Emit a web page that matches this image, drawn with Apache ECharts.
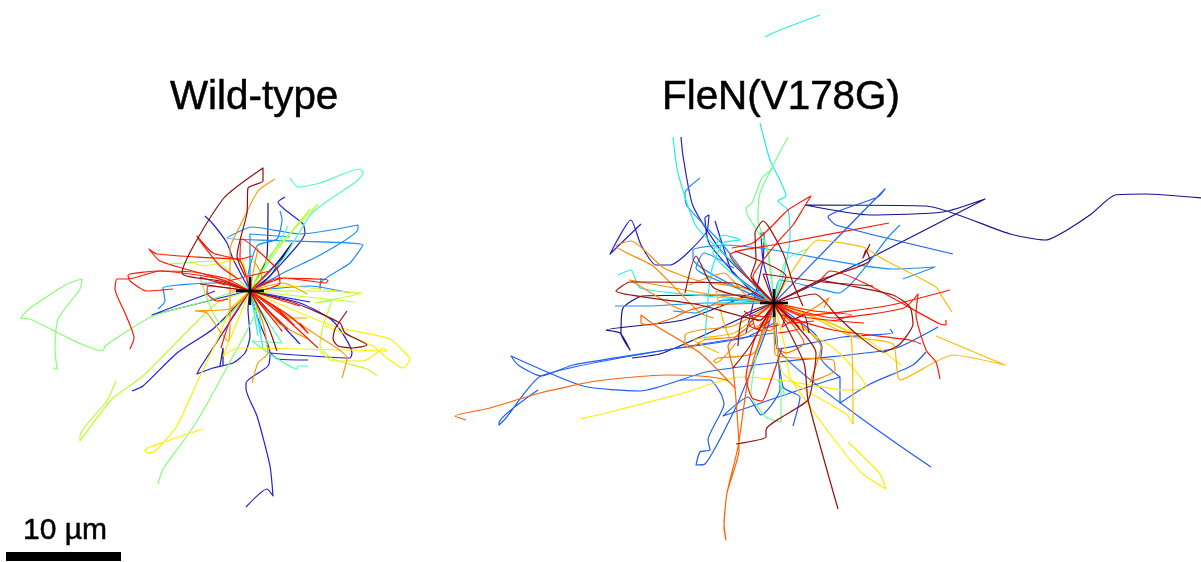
<!DOCTYPE html>
<html lang="en">
<head>
    <meta charset="UTF-8">
    <title>Wild-type vs FleN(V178G) tracks</title>
    <script src="https://cdn.jsdelivr.net/npm/echarts@6/dist/echarts.min.js"></script>
    <style>html, body { margin: 0; padding: 0; background: #fff; }</style>
</head>
<body>
    <div id="main" style="width: 1201px; height: 562px;"></div>
    <script>
        // cell tracks, displacement from the start point (1 unit = 1/11.5 um), y pointing down
        var wtMaroon = [
            [[0,0],[-30,-10],[-68,-18],[-27,-92],[13,-123],[13,-110],[-2,-103],[-3,-78],[-13,-35],[-5,-15]],
            [[0,0],[45,12],[90,32],[95,42],[117,54],[103,57],[88,55],[83,48],[85,38],[97,20]],
            [[0,0],[18,35],[27,60]],
            [[0,0],[-50,-7]]
        ];
        var wtRed = [
            [[0,0],[30,-13],[78,-11],[76,-8],[35,-13],[0,0]],
            [[0,0],[17,-2],[30,-8],[27,-22],[-8,-52],[-10,-30]],
            [[0,0],[-10,-30],[-37,-38],[-53,-55],[-50,-50],[-30,-25],[-12,-12]],
            [[0,0],[-23,-12],[-50,-18],[-90,-30],[-101,-42],[-93,-37],[-10,-32],[2,-35]],
            [[0,0],[-50,-18],[-90,-20],[-122,-12],[-133,-12],[-135,-2],[-125,22],[-116,47],[-120,58]],
            [[0,0],[-30,-12],[-90,-20],[-122,-16],[-120,-10],[-103,0],[-77,-2]],
            [[0,0],[33,25],[68,57]],
            [[0,0],[32,40],[30,38]],
            [[0,0],[40,25],[58,42],[50,32]],
            [[0,0],[50,15]],
            [[0,0],[-42,-5],[-43,2],[-33,10],[-22,8]],
            [[0,0],[-20,30],[-29,57]],
            [[0,0],[28,30],[8,10],[38,38]],
            [[0,0],[20,-20],[-22,-10]],
            [[0,0],[-35,-10],[-25,-6],[-50,-14]],
            [[0,0],[22,14],[44,34],[28,18]]
        ];
        var wtOrange = [
            [[0,0],[-20,0],[-20,-42],[-10,-65],[8,-100],[25,-112]],
            [[0,0],[-20,18],[-55,20],[-43,22],[-22,50],[-20,30],[-20,0]],
            [[0,0],[68,45],[97,67],[92,87]],
            [[0,0],[13,32],[18,62],[8,72],[2,92]],
            [[0,0],[33,-8],[57,3]],
            [[0,0],[17,12],[37,27],[57,27]],
            [[0,0],[3,-18],[8,-43]],
            [[0,0],[25,30],[58,48]],
            [[0,0],[12,-15],[4,-30]]
        ];
        var wtYellow = [
            [[0,0],[-10,-32],[-47,-25],[-60,-30]],
            [[0,0],[-20,18],[-30,43],[-50,85],[-73,135],[-87,152],[-95,160],[-103,162],[-105,159],[-83,150],[-47,138]],
            [[0,0],[83,35],[140,48],[158,65],[160,68],[153,77],[137,67],[123,55],[75,35]],
            [[0,0],[-27,65],[-12,57],[137,60],[133,57],[127,62],[113,70],[83,70],[70,60]],
            [[0,0],[35,-5],[110,3]]
        ];
        var wtLime = [
            [[0,0],[-17,5],[-37,15],[-107,85],[-137,107],[-170,150],[-170,145],[-143,110],[-134,90]],
            [[0,0],[50,0],[112,2],[65,12],[82,10],[73,35],[70,55],[83,68],[117,78],[127,85]],
            [[0,0],[17,-32],[68,-87]],
            [[0,0],[105,11]],
            [[0,0],[28,-42],[60,-82]]
        ];
        var wtGreen = [
            [[0,0],[-10,0],[-43,10],[-97,25],[-145,55],[-147,60],[-220,28],[-229,27],[-220,17],[-183,-7],[-168,-12],[-170,-2],[-192,28],[-195,58],[-193,78],[-197,77]],
            [[0,0],[7,15],[-17,65],[-50,125],[-63,145],[-87,178],[-92,193]],
            [[0,0],[-30,32],[-50,-13]],
            [[0,0],[-37,-30],[-80,-27]]
        ];
        var wtSea = [
            [[0,0],[33,-32],[62,-78],[107,-110],[113,-118],[110,-122],[70,-108],[48,-104],[40,-113]],
            [[0,0],[10,18],[32,52],[2,50],[23,65],[47,78],[48,75],[58,75]],
            [[0,0],[30,-50],[38,-65]]
        ];
        var wtCyan = [
            [[0,0],[7,25],[13,57]],
            [[0,0],[10,22],[10,42]],
            [[0,0],[3,15],[8,45]]
        ];
        var wtAzure = [
            [[0,0],[33,-18],[72,-37],[108,-62],[108,-66],[50,-57],[2,-64],[-23,-53],[113,-46],[100,-28],[70,-7],[70,-2],[71,-13]],
            [[0,0],[-3,-8],[7,-45],[27,-52],[32,-72],[30,-80]],
            [[0,0],[-33,-8],[-87,-3],[-85,10],[-92,18]],
            [[0,0],[60,-5],[100,2]],
            [[0,0],[0,-57],[40,-54]]
        ];
        var wtBlue = [
            [[0,0],[-17,-32],[-23,-48],[-37,-67],[-45,-75]],
            [[0,0],[13,-8],[47,-45],[55,-58],[53,-67],[28,-89],[35,-94]],
            [[0,0],[7,25],[20,62],[18,75],[-4,92],[-4,98],[7,125],[20,175],[23,205],[17,198],[-4,216]],
            [[0,0],[-37,38],[-73,62],[-107,95],[-118,100]],
            [[0,0],[-10,2],[-50,12],[-98,24],[-35,0]],
            [[0,0],[-2,18],[0,45],[-5,62],[-17,72],[-37,77],[-53,83],[-50,77],[0,0]],
            [[0,0],[50,12],[83,30],[102,62],[100,67],[20,62],[28,68],[58,69]],
            [[0,0],[50,53]],
            [[0,0],[60,11]]
        ];
        var wtNavy = [
            [[0,0],[17,-35],[18,-88]],
            [[0,0],[27,-28],[42,-48]],
            [[0,0],[20,-15],[40,-45],[25,-25]],
            [[-30,75],[-27,57],[-27,75]]
        ];

        var fnMaroon = [
            [[0,0],[30,60],[34,97],[64,206]],
            [[0,0],[42,50],[40,70],[34,97],[-8,127],[-8,134],[-38,141]],
            [[0,0],[46,-23],[96,-43],[92,-53],[89,-45],[96,-59]],
            [[0,0],[-11,-29],[49,-21],[99,-17]],
            [[0,0],[41,-9],[64,14],[86,34],[109,49],[126,41],[139,21],[136,4],[119,-8],[72,-18],[46,-23]],
            [[0,0],[-14,17],[-74,2],[-158,-12],[-144,-21],[-41,-20],[-10,-5]],
            [[0,0],[-23,-27],[-18,-43],[-19,-70],[-11,-82],[9,-50],[19,-20],[29,3]],
            [[0,0],[12,-27],[-39,-52]],
            [[0,0],[-11,20],[-24,43],[-41,65]],
            [[0,0],[-31,13],[-36,43]],
            [[0,0],[-60,-15],[-78,-47],[-89,-10]],
            [[0,0],[20,16],[30,12],[35,30]]
        ];
        var fnRed = [
            [[0,0],[-21,-26],[2,-59],[19,-78],[29,-94],[37,-107],[14,-93],[-3,-76],[-21,-60],[-42,-55]],
            [[0,0],[-44,-48],[-1,-58],[115,-80]],
            [[0,0],[32,12],[112,3],[176,-13]],
            [[0,0],[60,15],[130,5],[144,-9],[142,11],[152,47],[162,59],[166,76]],
            [[0,0],[46,-23],[56,-32],[166,21],[172,22],[172,17]],
            [[0,0],[6,11],[59,27],[136,37],[147,41]],
            [[0,0],[-20,38],[-28,75],[-22,95],[-12,98],[-4,80],[8,45]],
            [[0,0],[30,14],[90,20]],
            [[0,0],[-15,18],[-30,8]],
            [[0,0],[15,20],[40,18]],
            [[0,0],[-10,25],[5,22]],
            [[0,0],[25,25],[4,30]],
            [[0,0],[-25,22],[-12,28]],
            [[0,0],[-8,14],[-22,12],[-18,26],[-4,18]],
            [[0,0],[12,10],[8,24],[24,16],[30,28]],
            [[0,0],[40,8],[78,12],[60,18]]
        ];
        var fnVermilion = [
            [[0,0],[-60,2],[-84,7],[-101,15],[-125,22],[-133,20],[-133,12],[-118,23],[-74,50],[-39,85],[-48,77],[-74,73],[-108,72],[-178,78],[-234,90],[-284,105],[-319,113],[-308,117]],
            [[0,0],[-11,27],[-26,77],[-36,144],[-47,190],[-50,221],[-48,237],[-50,225],[-47,190],[-35,147],[-37,110],[-41,66],[-46,43],[-20,20]],
            [[0,0],[30,40],[12,50],[2,45]],
            [[0,0],[-4,12],[-14,22],[-4,28],[4,20]]
        ];
        var fnOrange = [
            [[0,0],[-30,-15],[-75,-22],[-110,-35],[-143,-62],[-158,-57],[-121,-37],[-74,10],[-60,15]],
            [[0,0],[-60,-8],[-144,-23],[-101,3],[-85,10]],
            [[0,0],[-41,23],[-74,27],[-89,32],[-89,42],[-84,45],[-70,37],[-34,33],[0,13]],
            [[0,0],[1,51],[59,57],[61,67],[36,79],[47,44],[20,15]],
            [[0,0],[-20,50],[-56,55],[-60,58],[-58,60],[-38,40]],
            [[0,0],[25,12],[55,-5],[50,5]],
            [[0,0],[-28,-8],[-50,-30],[-85,-18]]
        ];
        var fnAmber = [
            [[0,0],[19,-33],[44,-63],[89,-56],[109,-44],[162,-16],[167,-8],[178,9]],
            [[0,0],[32,11],[79,34],[119,41],[126,77],[179,52],[231,62],[162,33]],
            [[0,0],[77,34],[79,121]],
            [[0,0],[-58,-12],[-51,17],[-44,37]],
            [[0,0],[-40,30],[-80,37],[-55,50]]
        ];
        var fnYellow = [
            [[0,0],[6,11],[62,47],[92,84],[72,87],[6,77],[-34,74],[-94,91],[-168,110],[-194,116]],
            [[0,0],[10,40],[16,74],[34,101],[66,144],[89,171],[112,186],[106,171],[74,139]],
            [[0,0],[9,70],[72,111],[79,121]],
            [[0,0],[32,11],[89,34],[127,62]],
            [[0,0],[40,8],[60,10]]
        ];
        var fnGreen = [
            [[0,0],[-6,-53],[-16,-83],[-14,-110],[14,-166]],
            [[0,0],[-8,-57],[-26,-87],[-28,-95],[-22,-100],[-12,-125],[0,-135]],
            [[0,0],[-13,30],[-23,91],[-8,114],[7,119],[7,77],[4,77],[12,94]],
            [[0,0],[12,-43],[34,-54]]
        ];
        var fnCyan = [
            [[0,0],[-20,-20],[-51,-50],[-78,-77],[-96,-130],[-101,-166]],
            [[0,0],[9,-27],[16,-67],[14,-93],[4,-102],[12,-107],[-4,-143],[-14,-180]],
            [[0,0],[-30,-20],[-61,-50],[-51,-68],[-34,-63],[-51,-60],[-63,-30],[-69,37]],
            [[0,0],[-58,0]],
            [[0,0],[-68,-7],[-134,-15],[-143,-33],[-156,-28]],
            [[-9,-266],[6,-273],[46,-288]]
        ];
        var fnAzure = [
            [[0,0],[-20,-18],[-51,-58],[-87,-97],[-89,-110],[-74,-125]],
            [[0,0],[-68,0],[-128,3],[-159,3]],
            [[0,0],[-51,-3],[-78,10],[-101,8]],
            [[0,0],[-18,-6],[-81,-44],[-81,-53],[-51,-58],[-1,-53],[119,-34],[161,-36],[129,-24]],
            [[0,0],[6,-23],[46,-14],[64,-10],[116,-68],[126,-78]],
            [[0,0],[-30,-12],[-78,-35],[-70,-50],[-40,-35]],
            [[0,0],[-35,-4],[-55,-2]]
        ];
        var fnBlue = [
            [[0,0],[69,-71],[111,-114],[104,-106],[54,-86],[62,-78],[179,-49]],
            [[0,0],[4,46],[157,164]],
            [[0,20],[-30,35],[-108,47],[-201,62],[-233,73],[-256,62],[-263,53],[-191,83],[-134,88],[-68,69],[6,59],[119,46],[164,24]],
            [[0,30],[-108,47],[-233,73],[-268,115],[-275,122],[-275,120],[-236,87]],
            [[0,0],[-5,20],[-20,60],[-38,104],[-69,161],[-78,162],[-74,149],[-64,147],[-66,137],[-50,101],[-53,91],[-64,77],[-94,77]],
            [[0,0],[6,86],[-13,112],[-26,94],[-51,113],[34,84],[66,74],[66,100],[96,81],[139,62],[152,49]],
            [[0,0],[9,84],[26,94],[19,123]],
            [[0,0],[40,30],[48,44],[47,55],[66,74]],
            [[0,0],[4,46],[69,34],[119,30],[116,26]]
        ];
        var fnIndigo = [
            [[-133,-79],[-164,-49],[-143,-83],[-133,-58],[-118,-38],[-104,-38],[-68,-70],[-65,-88],[-69,-85],[-65,-60],[-40,-30],[-18,-8],[0,0]],
            [[0,0],[-51,-50],[-81,-97],[-91,-147],[-93,-166]],
            [[0,0],[-41,-30],[-51,-57],[-59,-82]],
            [[0,0],[-11,-43],[-13,-70],[-10,-70],[-11,-43],[-28,30]]
        ];
        var fnNavy = [
            [[0,0],[92,-43],[211,-104],[169,-91],[96,-88],[31,-98],[152,-97],[236,-69],[271,-63],[316,-88],[341,-108],[371,-109],[429,-105]],
            [[0,0],[-34,-8],[-131,-7],[-151,5],[-153,30],[-144,47],[-154,30],[-168,27],[-91,17],[-14,-13]],
            [[0,0],[-111,50],[-142,55]]
        ];

        var crossArms = [[[-14,0],[14,0]], [[0,-14],[0,14]]];
        var scaleBar = [[-244,265.5],[-129,265.5]];
        var panelTitles = ['Wild-type', 'FleN(V178G)'];
        var scaleLabel = '10 µm';

        var chartDom = document.getElementById('main');
        var myChart = echarts.init(chartDom);

        var trackGroups = [
            [0, wtNavy, '#14148c'], [0, wtBlue, '#1f1fdc'], [0, wtAzure, '#1a8cff'], [0, wtCyan, '#20ece8'],
            [0, wtSea, '#50ffb4'], [0, wtGreen, '#86ff70'], [0, wtLime, '#bcff30'], [0, wtYellow, '#ffee00'],
            [0, wtOrange, '#ff9a00'], [0, wtRed, '#ff1a00'], [0, wtMaroon, '#8c1010'],
            [1, fnNavy, '#14148c'], [1, fnIndigo, '#1f1fdc'], [1, fnBlue, '#1f5cff'], [1, fnAzure, '#1a90ff'],
            [1, fnCyan, '#20f0e8'], [1, fnGreen, '#70ff90'], [1, fnYellow, '#ffee00'], [1, fnAmber, '#ffbb00'],
            [1, fnOrange, '#ff8c00'], [1, fnVermilion, '#ff6400'], [1, fnRed, '#ff1a00'], [1, fnMaroon, '#9a1010']
        ];

        var series = [];
        function addLine(panel, points, color, width, z, smooth) {
            series.push({
                type: 'line',
                xAxisIndex: panel,
                yAxisIndex: panel,
                data: points,
                showSymbol: false,
                silent: true,
                animation: false,
                smooth: smooth,
                z: z,
                lineStyle: { color: color, width: width, cap: 'butt', join: 'round' }
            });
        }
        trackGroups.forEach(function (g) {
            g[1].forEach(function (track) {
                addLine(g[0], track, g[2], 1.2, 2, 0.2);
            });
        });
        [0, 1].forEach(function (panel) {
            crossArms.forEach(function (arm) {
                addLine(panel, arm, '#000', 2.6, 5, false);
            });
        });
        addLine(0, scaleBar, '#000', 9, 5, false);

        function label(text, left, top, size) {
            return {
                text: text,
                left: left,
                top: top,
                padding: 0,
                textStyle: {
                    fontFamily: 'Liberation Sans', fontWeight: 'normal', fontSize: size, color: '#000',
                    textBorderColor: '#000', textBorderWidth: 0.5
                }
            };
        }

        var option = {
            animation: false,
            title: [
                label(panelTitles[0], 170, 78, 40.4),
                label(panelTitles[1], 662, 78, 40.4),
                label(scaleLabel, 23, 516, 30)
            ],
            grid: [
                { left: 0, right: 0, top: 0, bottom: 0 },
                { left: 0, right: 0, top: 0, bottom: 0 }
            ],
            // both panels fill the page, each with its own origin
            xAxis: [
                { type: 'value', gridIndex: 0, min: -250, max: 951, show: false },
                { type: 'value', gridIndex: 1, min: -774, max: 427, show: false }
            ],
            yAxis: [
                { type: 'value', gridIndex: 0, min: -291, max: 271, inverse: true, show: false },
                { type: 'value', gridIndex: 1, min: -303, max: 259, inverse: true, show: false }
            ],
            series: series
        };

        option && myChart.setOption(option);
    </script>
</body>
</html>
